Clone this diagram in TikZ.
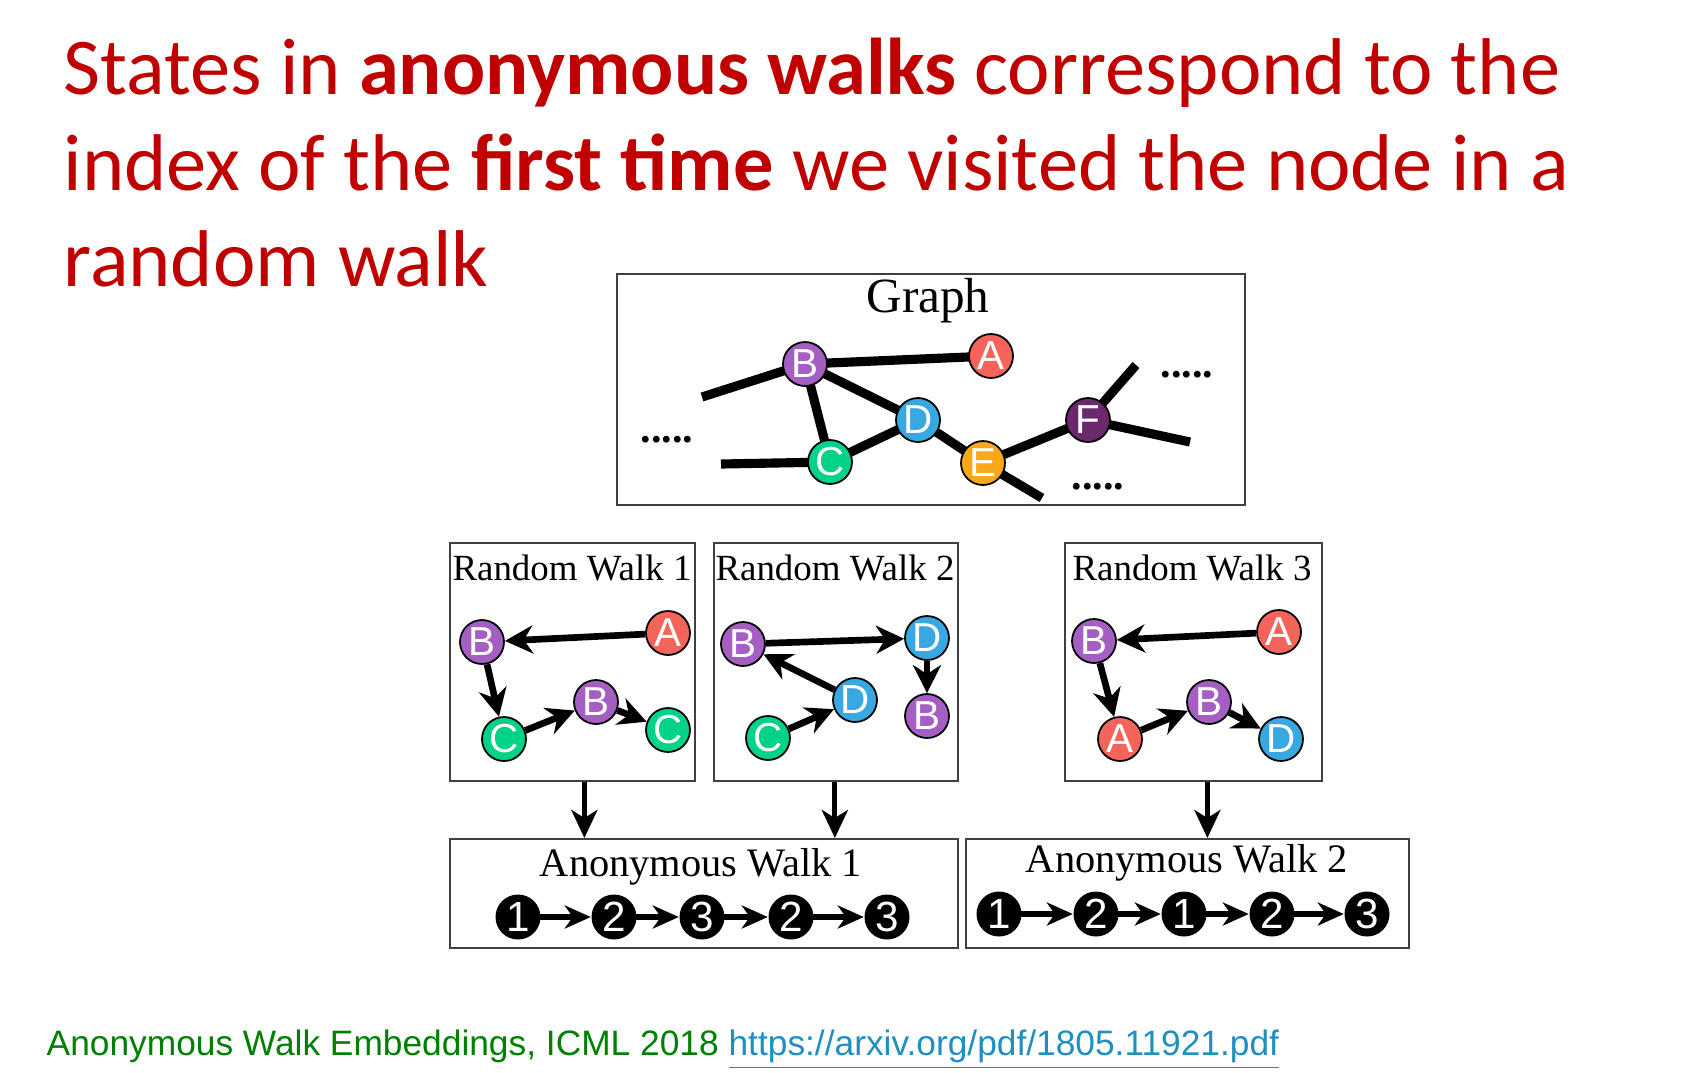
\documentclass[tikz,border=0pt]{standalone}
\usepackage{fontspec}
\setmainfont{Liberation Serif}
\setsansfont{Liberation Sans}
\newfontfamily\slidefont{Carlito}
\usetikzlibrary{arrows.meta,backgrounds}

\definecolor{slidered}{RGB}{192,0,0}
\definecolor{citegreen}{RGB}{0,128,0}
\definecolor{linkblue}{RGB}{31,143,192}
\definecolor{colA}{RGB}{245,100,90}
\definecolor{colB}{RGB}{165,95,195}
\definecolor{colC}{RGB}{0,210,135}
\definecolor{colD}{RGB}{55,168,225}
\definecolor{colE}{RGB}{248,168,25}
\definecolor{colF}{RGB}{108,40,108}

\begin{document}
\begin{tikzpicture}[x=0.1mm, y=-0.1mm,
  panel/.style={draw=black!75, line width=0.5pt, anchor=north west, inner sep=0pt},
  vx/.style={circle, draw=black, line width=0.5pt, minimum size=4.4mm, inner sep=0pt, text=white, font=\sffamily\fontsize{11.5}{12}\selectfont},
  num/.style={circle, fill=black, minimum size=4.5mm, inner sep=0pt, text=white, font=\sffamily\fontsize{12}{12}\selectfont},
  link/.style={line width=2.6pt},
  wlk/.style={-{Stealth[length=2.8mm, width=2.8mm, inset=0.9mm]}, line width=1.9pt},
  dn/.style={-{Stealth[length=2.8mm, width=2.6mm, inset=0.8mm]}, line width=1.4pt},
  seqarr/.style={-{Stealth[length=2.6mm, width=2.3mm, inset=0.8mm]}, line width=1.5pt, shorten <=-0.5pt},
  ttl/.style={anchor=base, font=\fontsize{10.5}{12}\selectfont},
  dots/.style={font=\bfseries\fontsize{12}{12}\selectfont}]
\useasboundingbox (0,0) rectangle (1692,1072);

% heading and citation
\node[anchor=base west, align=left, inner sep=0pt, text=slidered, font=\slidefont\fontsize{22.9}{27.3}\selectfont] (head) at (63,286)
  {States in \textbf{anonymous walks} correspond to the\\index of the \textbf{first time} we visited the node in a\\random walk};
\node[anchor=base west, inner sep=0pt, text=citegreen, font=\sffamily\fontsize{10.05}{12}\selectfont] (cite) at (46,1055)
  {Anonymous Walk Embeddings, ICML 2018 \textcolor{linkblue}{\underline{https://arxiv.org/pdf/1805.11921.pdf}}};

% panels
\node[panel, minimum width=62.8mm, minimum height=23.1mm] (graph) at (616,273) {};
\node[panel, minimum width=24.5mm, minimum height=23.8mm] (rw1) at (449,542) {};
\node[panel, minimum width=24.4mm, minimum height=23.8mm] (rw2) at (713,542) {};
\node[panel, minimum width=25.7mm, minimum height=23.8mm] (rw3) at (1064,542) {};
\node[panel, minimum width=50.8mm, minimum height=10.9mm] (aw1) at (449,838) {};
\node[panel, minimum width=44.3mm, minimum height=10.9mm] (aw2) at (965,838) {};

\node[anchor=base, font=\fontsize{14}{16}\selectfont] (gtitle) at (928,312) {Graph};
\node[ttl] (rw1title) at (572,580) {Random Walk 1};
\node[ttl] (rw2title) at (835,580) {Random Walk 2};
\node[ttl] (rw3title) at (1192,580) {Random Walk 3};
\node[ttl, font=\fontsize{11.5}{13}\selectfont] (aw1title) at (701,876) {Anonymous Walk 1};
\node[ttl, font=\fontsize{11.5}{13}\selectfont] (aw2title) at (1187,872) {Anonymous Walk 2};

% graph
\node[vx, fill=colB] (gB) at (805,364) {B};
\node[vx, fill=colA] (gA) at (991,356) {A};
\node[vx, fill=colD] (gD) at (918,420) {D};
\node[vx, fill=colC] (gC) at (830,462) {C};
\node[vx, fill=colE] (gE) at (983,463) {E};
\node[vx, fill=colF] (gF) at (1088,420) {F};
\coordinate (bl) at (702,397);
\coordinate (cl) at (721,464);
\coordinate (el) at (1042,498);
\coordinate (fu) at (1136,365);
\coordinate (fr) at (1190,442);
\begin{scope}[on background layer]
\draw[link] (bl) -- (gB.center) -- (gA.center);
\draw[link] (gB.center) -- (gC.center) -- (gD.center) -- (gB.center);
\draw[link] (cl) -- (gC.center);
\draw[link] (gD.center) -- (gE.center) -- (gF.center) -- (fu);
\draw[link] (gE.center) -- (el);
\draw[link] (gF.center) -- (fr);
\end{scope}
\node[dots] (dl) at (667,440) {.....};
\node[dots] (dr) at (1187,375) {.....};
\node[dots] (db) at (1098,487) {.....};

% random walk 1
\node[vx, fill=colA] (p1) at (668,633) {A};
\node[vx, fill=colB] (p2) at (482,642) {B};
\node[vx, fill=colC] (p3) at (504,739) {C};
\node[vx, fill=colB] (p4) at (596,702) {B};
\node[vx, fill=colC] (p5) at (668,730) {C};
\draw[wlk] (p1) -- (p2);
\draw[wlk] (p2) -- (p3);
\draw[wlk] (p3) -- (p4);
\draw[wlk] (p4) -- (p5);

% random walk 2
\node[vx, fill=colC] (q1) at (768,738) {C};
\node[vx, fill=colD] (q2) at (855,700) {D};
\node[vx, fill=colB] (q3) at (743,644) {B};
\node[vx, fill=colD] (q4) at (927,638) {D};
\node[vx, fill=colB] (q5) at (927,716) {B};
\draw[wlk] (q1) -- (q2);
\draw[wlk] (q2) -- (q3);
\draw[wlk] (q3) -- (q4);
\draw[wlk] (q4) -- (q5);

% random walk 3
\node[vx, fill=colA] (r1) at (1279,632) {A};
\node[vx, fill=colB] (r2) at (1094,641) {B};
\node[vx, fill=colA] (r3) at (1120,739) {A};
\node[vx, fill=colB] (r4) at (1209,702) {B};
\node[vx, fill=colD] (r5) at (1281,739) {D};
\draw[wlk] (r1) -- (r2);
\draw[wlk] (r2) -- (r3);
\draw[wlk] (r3) -- (r4);
\draw[wlk] (r4) -- (r5);

% walks to anonymous walks
\draw[dn] ([xshift=1.2mm]rw1.south) -- ([xshift=1.2mm]rw1.south |- aw1.north);
\draw[dn] ([xshift=-0.1mm]rw2.south) -- ([xshift=-0.1mm]rw2.south |- aw1.north);
\draw[dn] ([xshift=1.4mm]rw3.south) -- ([xshift=1.4mm]rw3.south |- aw2.north);

% anonymous walks
\foreach \k/\x/\n in {1/518/1, 2/614/2, 3/702/3, 4/791/2, 5/887/3}
  \node[num] (s\k) at (\x,917) {\n};
\foreach \k/\x/\n in {1/999/1, 2/1096/2, 3/1184/1, 4/1272/2, 5/1367/3}
  \node[num] (t\k) at (\x,914) {\n};
\foreach \i [count=\j from 2] in {1,...,4} {
  \draw[seqarr] (s\i) -- (s\j);
  \draw[seqarr] (t\i) -- (t\j);
}
\end{tikzpicture}
\end{document}
